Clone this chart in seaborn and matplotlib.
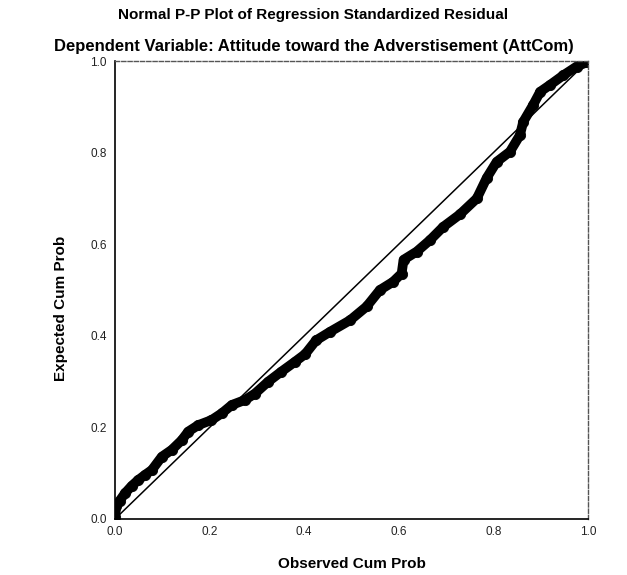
import pandas as pd
import numpy as np
import seaborn as sns
import matplotlib.pyplot as plt

# Values (observed vs expected cumulative probability)
observed = [0.000, 0.003, 0.010, 0.021, 0.035, 0.049, 0.063, 0.078, 0.099, 0.120,
            0.141, 0.155, 0.176, 0.204, 0.226, 0.247, 0.275, 0.296, 0.324, 0.352,
            0.380, 0.402, 0.425, 0.455, 0.497, 0.532, 0.560, 0.588, 0.606, 0.610,
            0.638, 0.666, 0.694, 0.729, 0.765, 0.786, 0.807, 0.835, 0.856, 0.863,
            0.884, 0.899, 0.920, 0.948, 0.976, 0.997, 1.000]
expected = [0.005, 0.028, 0.040, 0.056, 0.072, 0.085, 0.096, 0.107, 0.136, 0.151,
            0.172, 0.191, 0.205, 0.216, 0.231, 0.249, 0.260, 0.274, 0.300, 0.322,
            0.343, 0.360, 0.390, 0.409, 0.434, 0.464, 0.500, 0.518, 0.536, 0.566,
            0.584, 0.609, 0.638, 0.665, 0.700, 0.745, 0.780, 0.802, 0.838, 0.867,
            0.904, 0.933, 0.948, 0.969, 0.988, 0.997, 1.000]
ref_line = [0.0, 1.0]
ticks = [0.0, 0.2, 0.4, 0.6, 0.8, 1.0]
tick_labels = ['0.0', '0.2', '0.4', '0.6', '0.8', '1.0']

pp = pd.DataFrame({'Observed Cum Prob': observed, 'Expected Cum Prob': expected})

sns.set_theme(style='white')
plt.rcParams['font.family'] = ['Liberation Sans', 'DejaVu Sans']
plt.rcParams['text.color'] = 'black'
plt.rcParams['axes.labelcolor'] = 'black'

fig = plt.figure(figsize=(6.27, 5.75), dpi=100)
ax = fig.add_axes([0.1834, 0.0974, 0.7544, 0.7965])

# diagonal reference
sns.lineplot(x=ref_line, y=ref_line, color='black', linewidth=1.1, ax=ax)
# thick band of residual points
sns.lineplot(data=pp, x='Observed Cum Prob', y='Expected Cum Prob', sort=False,
             color='black', linewidth=7, solid_capstyle='round',
             solid_joinstyle='round', ax=ax)
sns.scatterplot(data=pp, x='Observed Cum Prob', y='Expected Cum Prob',
                color='black', s=55, edgecolor='black', ax=ax)

ax.set_xlim(0, 1)
ax.set_ylim(0, 1)
ax.set_xticks(ticks)
ax.set_xticklabels(tick_labels)
ax.set_yticks(ticks)
ax.set_yticklabels(tick_labels)
ax.tick_params(axis='both', labelsize=8.5, colors='#222222', length=4, width=1)
ax.tick_params(axis='x', direction='inout', pad=3)
ax.tick_params(axis='y', direction='out', pad=2)

for side in ['left', 'bottom']:
    ax.spines[side].set_color('black')
    ax.spines[side].set_linewidth(1.2)
for side in ['top', 'right']:
    ax.spines[side].set_color('#555555')
    ax.spines[side].set_linewidth(1.0)
    ax.spines[side].set_linestyle((0, (3, 1.5)))

ax.set_xlabel('Observed Cum Prob', fontsize=11, fontweight='bold', labelpad=14)
ax.set_ylabel('Expected Cum Prob', fontsize=11, fontweight='bold')
ax.yaxis.set_label_coords(-0.1, 0.46)

fig.text(0.5, 1 - 15 / 575, 'Normal P-P Plot of Regression Standardized Residual',
         ha='center', va='center', fontsize=11, fontweight='bold')
fig.text(0.5, 1 - 46 / 575, 'Dependent Variable: Attitude toward the Adverstisement (AttCom)',
         ha='center', va='center', fontsize=12, fontweight='bold')

plt.savefig('out.png', dpi=100)
